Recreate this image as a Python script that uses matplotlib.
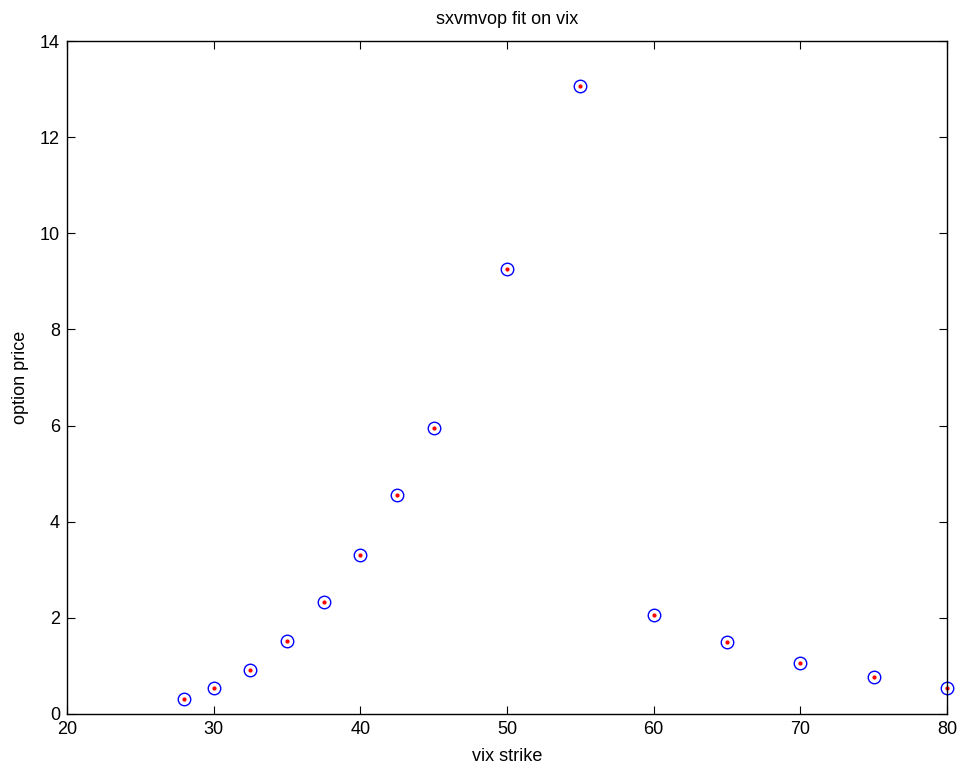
import numpy as np
import matplotlib.pyplot as plt

plt.rcParams['font.family'] = ['Liberation Sans', 'DejaVu Sans']

# strikes and fitted option prices
strike = [28, 30, 32.5, 35, 37.5, 40, 42.5, 45, 50, 55, 60, 65, 70, 75, 80]
price = [0.31, 0.54, 0.915, 1.52, 2.34, 3.31, 4.56, 5.95, 9.26, 13.06,
         2.05, 1.50, 1.06, 0.77, 0.54]

fig = plt.figure(figsize=(9.62, 7.68), dpi=100)
ax = fig.add_axes([67/962, 1 - 714/768, 880/962, 673/768])

ax.plot(strike, price, 'o', mfc='none', mec='blue', ms=9, mew=1.0, clip_on=False)
ax.plot(strike, price, '.', color='red', ms=4, clip_on=False)

ax.set_xlim(20, 80)
ax.set_ylim(0, 14)
ax.set_xticks(np.arange(20, 81, 10))
ax.set_yticks(np.arange(0, 15, 2))
ax.tick_params(direction='in', top=True, right=True, length=6, width=0.8,
               labelsize=13, pad=5)
for s in ax.spines.values():
    s.set_linewidth(1.0)

ax.set_title('sxvmvop fit on vix', fontsize=13, pad=12)
ax.set_xlabel('vix strike', fontsize=13, labelpad=7)
ax.set_ylabel('option price', fontsize=13, labelpad=8)

fig.savefig('out.png', dpi=100)
